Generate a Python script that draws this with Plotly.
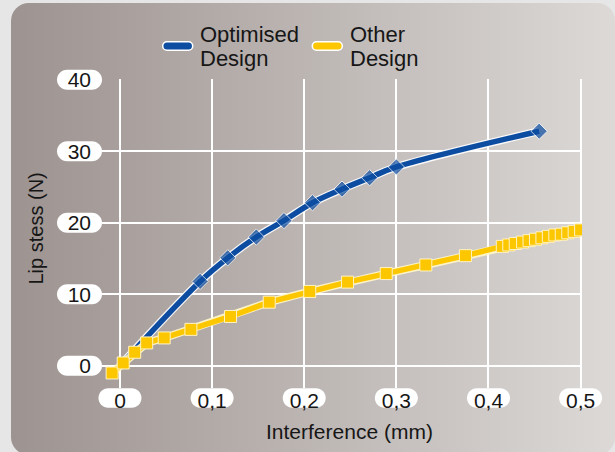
import base64
import plotly.graph_objects as go

# ---------------- data ----------------
opt_x = [0.0, 0.087, 0.117, 0.148, 0.178, 0.209, 0.241, 0.271, 0.300, 0.455]
opt_y = [0.0, 11.8, 15.1, 18.0, 20.3, 22.8, 24.7, 26.3, 27.8, 32.8]

other_x = [-0.0085, 0.0035, 0.016, 0.029, 0.048, 0.077, 0.120, 0.162, 0.206, 0.247,
           0.289, 0.332, 0.375, 0.415, 0.422, 0.429, 0.437, 0.444, 0.451, 0.458,
           0.465, 0.472, 0.479, 0.486, 0.493, 0.500]
other_y = [-1.0, 0.4, 1.9, 3.2, 3.9, 5.1, 6.9, 8.9, 10.4, 11.7,
           12.9, 14.1, 15.4, 16.7, 16.9, 17.1, 17.3, 17.5, 17.7, 17.9,
           18.1, 18.3, 18.4, 18.6, 18.8, 19.0]

x_ticks = [0, 0.1, 0.2, 0.3, 0.4, 0.5]
x_tick_labels = ["0", "0,1", "0,2", "0,3", "0,4", "0,5"]
y_ticks = [0, 10, 20, 30, 40]
y_tick_labels = ["0", "10", "20", "30", "40"]

series_names = ["Optimised", "Other"]
x_title = "Interference (mm)"
y_title = "Lip stess (N)"

# ---------------- style ----------------
W, H = 615, 452
L, R, T, B = 102, 582, 79, 388
XR = [-0.0195, 0.5015]
YR = [-3.1, 40.1]
BLUE = "#0c4da2"
YELLOW = "#fdc700"
TXT = "#161616"
FONT = "Liberation Sans"


def px(x):
    return (x - L) / (R - L)


def py(y):
    return (B - y) / (B - T)


def xdom(v):
    return (v - XR[0]) / (XR[1] - XR[0])


def ydom(v):
    return (v - YR[0]) / (YR[1] - YR[0])


def pill(x0, x1, yc, h):
    r = h / 2.0
    k = 0.5523 * r
    top, bot = yc + r, yc - r
    return (f"M{x0 + r},{top} L{x1 - r},{top} "
            f"C{x1 - r + k},{top} {x1},{yc + k} {x1},{yc} "
            f"C{x1},{yc - k} {x1 - r + k},{bot} {x1 - r},{bot} "
            f"L{x0 + r},{bot} "
            f"C{x0 + r - k},{bot} {x0},{yc - k} {x0},{yc} "
            f"C{x0},{yc + k} {x0 + r - k},{top} {x0 + r},{top} Z")


fig = go.Figure()

# optimised design (white halo, line, markers)
fig.add_trace(go.Scatter(x=opt_x, y=opt_y, mode="lines", showlegend=False, hoverinfo="skip",
                         line=dict(color="rgba(255,255,255,0.9)", width=8, shape="spline", smoothing=1)))
fig.add_trace(go.Scatter(x=opt_x, y=opt_y, mode="lines+markers", name=series_names[0], showlegend=False,
                         line=dict(color=BLUE, width=5.5, shape="spline", smoothing=1),
                         marker=dict(symbol="diamond", color=BLUE,
                                     size=[0] + [12.5] * (len(opt_x) - 1),
                                     line=dict(color="white", width=1))))
# other design
fig.add_trace(go.Scatter(x=other_x, y=other_y, mode="lines", showlegend=False, hoverinfo="skip",
                         line=dict(color="rgba(255,246,200,0.95)", width=8)))
fig.add_trace(go.Scatter(x=other_x, y=other_y, mode="lines+markers", name=series_names[1], showlegend=False,
                         line=dict(color=YELLOW, width=5.5),
                         marker=dict(symbol="square", color=YELLOW, size=12,
                                     line=dict(color="#fff3c4", width=1))))

# background rounded gradient panel
svg = ('<svg xmlns="http://www.w3.org/2000/svg" width="615" height="452" viewBox="0 0 615 452">'
       '<defs><linearGradient id="g" x1="0" y1="0" x2="1" y2="0">'
       '<stop offset="0" stop-color="#9d9390"/><stop offset="1" stop-color="#dcd9d7"/>'
       '</linearGradient></defs>'
       '<rect x="11" y="3" width="604" height="452" rx="18" ry="18" fill="url(#g)"/></svg>')
src = "data:image/svg+xml;base64," + base64.b64encode(svg.encode()).decode()

shapes = []
# tick label pills
for v in x_ticks:
    shapes.append(dict(type="path", xref="x domain", yref="y domain",
                       xsizemode="pixel", ysizemode="pixel",
                       xanchor=xdom(v), yanchor=0,
                       path=pill(-21.5, 21.5, -10, 19.5),
                       fillcolor="white", line=dict(width=0), layer="below"))
for v in y_ticks:
    shapes.append(dict(type="path", xref="x domain", yref="y domain",
                       xsizemode="pixel", ysizemode="pixel",
                       xanchor=0, yanchor=ydom(v),
                       path=pill(-45, 0, 0, 20),
                       fillcolor="white", line=dict(width=0), layer="below"))
# legend line symbols
for cx, col in [(177.7, BLUE), (327.3, YELLOW)]:
    shapes.append(dict(type="path", xref="paper", yref="paper",
                       xsizemode="pixel", ysizemode="pixel",
                       xanchor=px(cx), yanchor=py(46),
                       path=pill(-15, 15, 0, 8.5),
                       fillcolor=col, line=dict(color="white", width=1.5), layer="above"))

annotations = []
leg_font = dict(family=FONT, size=22, color=TXT)
for lx, name in [(197.5, series_names[0]), (347.5, series_names[1])]:
    annotations.append(dict(text=name, x=px(lx), y=py(34), xref="paper", yref="paper",
                            xanchor="left", yanchor="middle", showarrow=False, font=leg_font))
    annotations.append(dict(text="Design", x=px(lx), y=py(58), xref="paper", yref="paper",
                            xanchor="left", yanchor="middle", showarrow=False, font=leg_font))
annotations.append(dict(text=x_title, x=px(349), y=py(431), xref="paper", yref="paper",
                        xanchor="center", yanchor="middle", showarrow=False,
                        font=dict(family=FONT, size=21, color=TXT)))
annotations.append(dict(text=y_title, x=px(35), y=py(228.5), xref="paper", yref="paper",
                        xanchor="center", yanchor="middle", textangle=-90, showarrow=False,
                        font=dict(family=FONT, size=20, color=TXT)))

fig.update_layout(
    width=W, height=H,
    margin=dict(l=L, r=W - R, t=T, b=H - B, pad=0),
    paper_bgcolor="#e6e6e6",
    plot_bgcolor="rgba(0,0,0,0)",
    font=dict(family=FONT, color=TXT, size=21),
    showlegend=False,
    images=[dict(source=src, xref="paper", yref="paper", x=px(0), y=py(0),
                 sizex=W / (R - L), sizey=H / (B - T), xanchor="left", yanchor="top",
                 sizing="stretch", layer="below")],
    shapes=shapes,
    annotations=annotations,
    xaxis=dict(range=XR, tickvals=x_ticks, ticktext=x_tick_labels, showgrid=True,
               gridcolor="white", gridwidth=1.5, zeroline=False, showline=False,
               ticks="", ticklabelstandoff=-2, tickfont=dict(size=21, color=TXT, family=FONT)),
    yaxis=dict(range=YR, tickvals=y_ticks, ticktext=y_tick_labels, showgrid=True,
               gridcolor="white", gridwidth=1.5, zeroline=False, showline=False,
               ticks="", ticklabelstandoff=10, tickfont=dict(size=21, color=TXT, family=FONT)),
)

fig.write_html("out.html", config={"displayModeBar": False},
               post_script="document.body.style.margin='0';document.body.style.overflow='hidden';")
